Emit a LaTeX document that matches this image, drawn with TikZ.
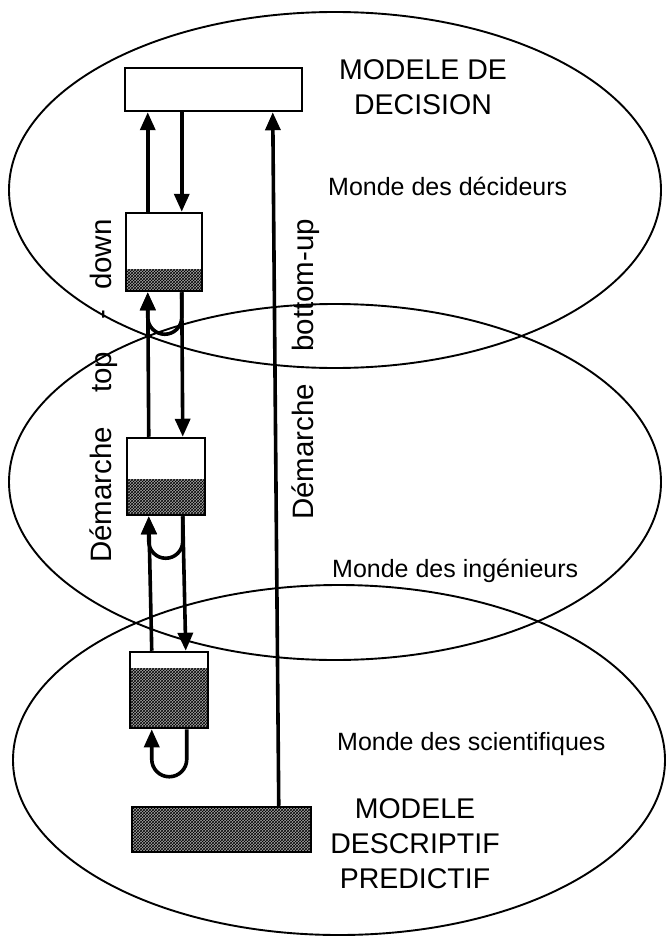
\documentclass[tikz,border=0pt]{standalone}
\usepackage{fontspec}
\setmainfont{Liberation Sans}
\usetikzlibrary{arrows.meta,patterns}
\begin{document}
\begin{tikzpicture}[x=1pt,y=-1pt,
  world/.style={draw, line width=1.9pt},
  hatch/.style={fill=black!35, postaction={pattern=crosshatch, pattern color=black}},
  box/.style={draw, line width=2.5pt, fill=white, rectangle, inner sep=0pt},
  lower hatched/.style={path picture={\fill[hatch] (path picture bounding box.south west) rectangle ([yshift=#1]path picture bounding box.south east);}},
  flow/.style={line width=3.6pt, -{Triangle[length=18pt,width=15pt]}},
  title/.style={font=\fontsize{28.5}{35}\selectfont, align=center, anchor=base, inner sep=0pt},
  world label/.style={font=\fontsize{25}{30}\selectfont, anchor=base west, inner sep=0pt},
  approach/.style={font=\fontsize{29.5}{34}\selectfont, rotate=90, anchor=base west, inner sep=0pt}
]
\useasboundingbox (0,0) rectangle (665,936);

% the three worlds
\draw[world] (335,190) ellipse [x radius=326pt, y radius=178pt];
\draw[world] (335,482) ellipse [x radius=326pt, y radius=178pt];
\draw[world] (339,760) ellipse [x radius=326pt, y radius=175pt];

% models
\node[box, minimum width=177pt, minimum height=43pt] (decision) at (213.5,89.5) {};
\node[box, minimum width=76pt, minimum height=78pt, lower hatched=22pt] (b1) at (164,252) {};
\node[box, minimum width=78pt, minimum height=77pt, lower hatched=36pt] (b2) at (166,476.5) {};
\node[box, minimum width=78pt, minimum height=76pt, lower hatched=60pt] (b3) at (169,690) {};
\node[box, minimum width=179pt, minimum height=45pt, lower hatched=45pt] (descr) at (221.5,829.5) {};

% top-down chain
\draw[flow] ([xshift=23pt]b1.north west) -- ([xshift=23pt]b1.north west |- decision.south);
\draw[flow] ([xshift=57pt]b1.north west |- decision.south) -- ([xshift=57pt]b1.north west);
\draw[flow] ([xshift=23pt]b2.north west) -- ([xshift=23pt]b1.south west);
\draw[flow] ([xshift=57pt]b1.south west) -- ([xshift=57pt]b2.north west);
\draw[flow] ([xshift=23pt]b3.north west) -- ([xshift=23pt]b2.south west);
\draw[flow] ([xshift=57pt]b2.south west) -- ([xshift=57pt]b3.north west);

% feedback loops
\draw[flow] ([xshift=57pt]b1.south west) -- ++(0,25) arc[start angle=0, end angle=-180, radius=17pt] -- ([xshift=23pt]b1.south west);
\draw[flow] ([xshift=57pt]b2.south west) -- ++(0,25) arc[start angle=0, end angle=-180, radius=17pt] -- ([xshift=23pt]b2.south west);
\draw[flow] ([xshift=58pt]b3.south west) -- ++(0,30) arc[start angle=0, end angle=-180, radius=17.5pt] -- ([xshift=23pt]b3.south west);

% bottom-up link
\draw[flow] ([xshift=148pt]descr.north west) -- ([xshift=149pt]decision.south west);

% labels
\node[title] (decisiontitle) at (423,115) {MODELE DE\\DECISION};
\node[world label] (decideurs) at (328,195) {Monde des décideurs};
\node[world label] (ingenieurs) at (332,577) {Monde des ingénieurs};
\node[world label] (scientifiques) at (337,750) {Monde des scientifiques};
\node[title] (descrtitle) at (415,888) {MODELE\\DESCRIPTIF\\PREDICTIF};
\node[approach] (bottomup) at (313,520) {Démarche\hspace{32pt}bottom-up};
\node[approach] (topdown) at (111,563) {Démarche\hspace{34pt}top\hspace{32pt}-\hspace{20pt}down};
\end{tikzpicture}
\end{document}
